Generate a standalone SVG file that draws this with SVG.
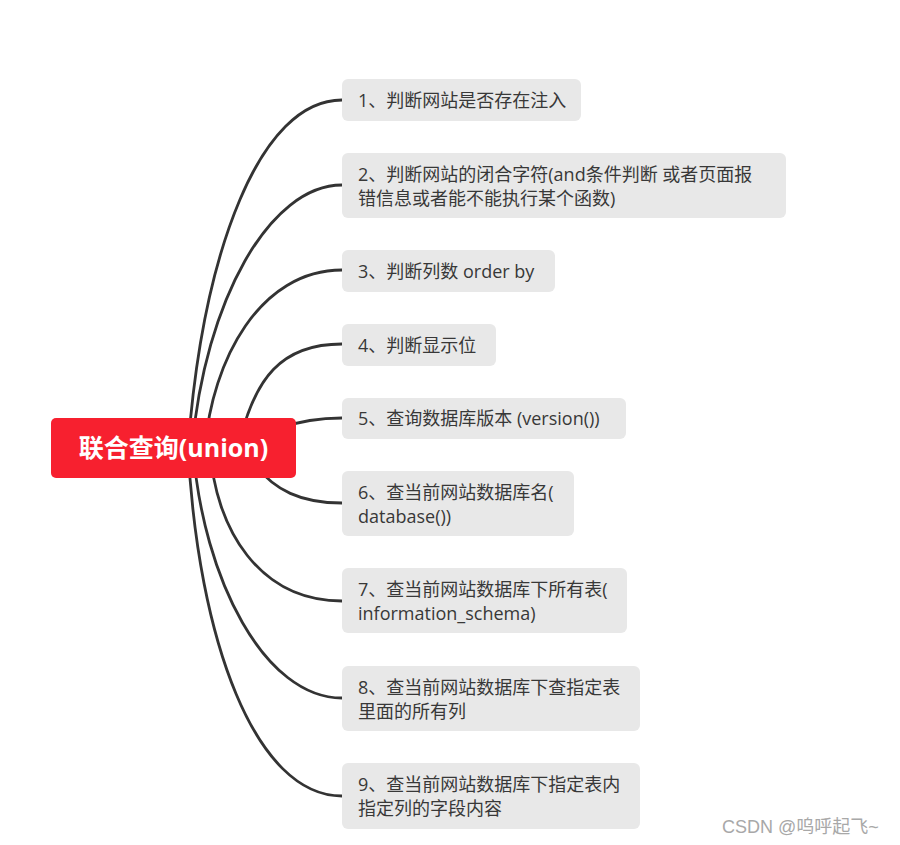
<svg xmlns="http://www.w3.org/2000/svg" width="900" height="845" viewBox="0 0 900 845">
<style>
.box{fill:#E8E8E8}
.t{font-family:"Open Sans","Noto Sans CJK SC",sans-serif;font-size:18px;fill:#383838}
.root{fill:#F7202F}
.rt{font-family:"Open Sans","Noto Sans CJK SC",sans-serif;font-size:25px;font-weight:bold;fill:#FFFFFF}
.c{fill:none;stroke:#333333;stroke-width:2.8;stroke-linecap:round}
.wm{font-family:"Liberation Sans","Noto Sans CJK SC",sans-serif;font-size:18px;fill:#A8A8A8}
</style>
<rect width="900" height="845" fill="#FFFFFF"/>
<g id="connectors">
<path class="c" d="M188,448 C203,250 260,100 342,100"/>
<path class="c" d="M192,448 C205,300 270,185 342,185"/>
<path class="c" d="M205,448 C212,360 260,270 342,270"/>
<path class="c" d="M240,440 C255,380 280,344 342,344"/>
<path class="c" d="M280,428 C300,421 320,418 342,418"/>
<path class="c" d="M255,465 C275,490 300,503 342,503"/>
<path class="c" d="M210,448 C215,530 260,601 342,601"/>
<path class="c" d="M193,448 C203,580 265,698 342,698"/>
<path class="c" d="M188,448 C198,640 255,796 342,796"/>
</g>
<g id="root">
<rect class="root" x="51" y="418" width="245" height="60" rx="5"/>
<text class="rt" x="173.5" y="457" text-anchor="middle">联合查询(union)</text>
</g>
<g id="n1">
<rect class="box" x="342" y="79" width="239" height="42" rx="6"/>
<text class="t" x="358" y="106.5">1、判断网站是否存在注入</text>
</g>
<g id="n2">
<rect class="box" x="342" y="153" width="444" height="65" rx="6"/>
<text class="t" x="358" y="181">2、判断网站的闭合字符(and条件判断 或者页面报</text>
<text class="t" x="358" y="205">错信息或者能不能执行某个函数)</text>
</g>
<g id="n3">
<rect class="box" x="342" y="250" width="213" height="42" rx="6"/>
<text class="t" x="358" y="277.5">3、判断列数 order by</text>
</g>
<g id="n4">
<rect class="box" x="342" y="324" width="154" height="42" rx="6"/>
<text class="t" x="358" y="351.5">4、判断显示位</text>
</g>
<g id="n5">
<rect class="box" x="342" y="398" width="284" height="41" rx="6"/>
<text class="t" x="358" y="425">5、查询数据库版本 (version())</text>
</g>
<g id="n6">
<rect class="box" x="342" y="471" width="232" height="65" rx="6"/>
<text class="t" x="358" y="499">6、查当前网站数据库名(</text>
<text class="t" x="358" y="523">database())</text>
</g>
<g id="n7">
<rect class="box" x="342" y="568" width="285" height="65" rx="6"/>
<text class="t" x="358" y="596">7、查当前网站数据库下所有表(</text>
<text class="t" x="358" y="620">information_schema)</text>
</g>
<g id="n8">
<rect class="box" x="342" y="666" width="298" height="65" rx="6"/>
<text class="t" x="358" y="694">8、查当前网站数据库下查指定表</text>
<text class="t" x="358" y="718">里面的所有列</text>
</g>
<g id="n9">
<rect class="box" x="342" y="763" width="298" height="66" rx="6"/>
<text class="t" x="358" y="791">9、查当前网站数据库下指定表内</text>
<text class="t" x="358" y="815">指定列的字段内容</text>
</g>
<text class="wm" x="722" y="833">CSDN @呜呼起飞~</text>
</svg>
